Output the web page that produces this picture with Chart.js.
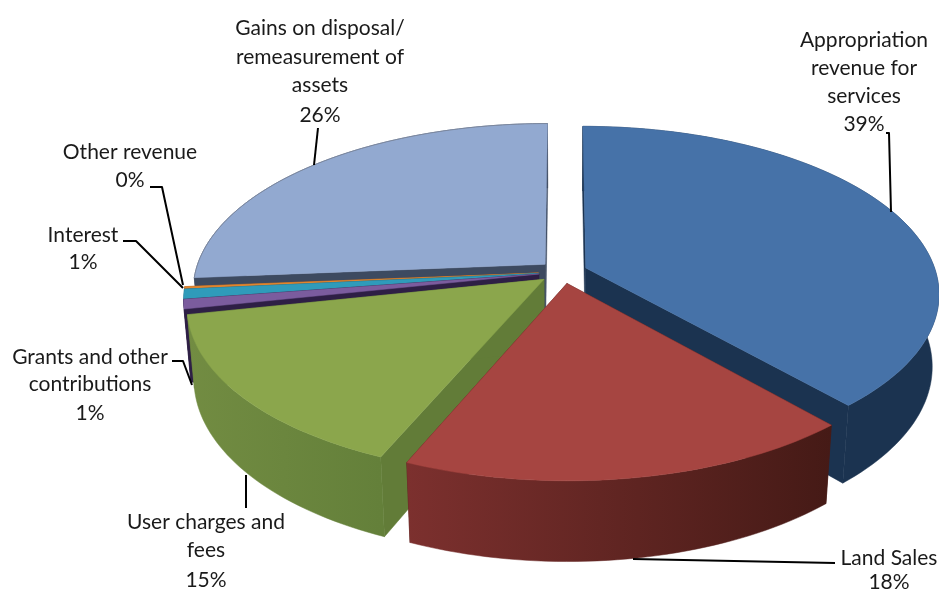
<!DOCTYPE html>
<html><head><meta charset="utf-8">
<style>html,body{margin:0;padding:0;background:#fff}canvas{display:block}</style>
<script src="https://cdn.jsdelivr.net/npm/chart.js@4"></script>
</head><body><canvas id="c" width="939" height="592"></canvas>
<script>
// Data
const categories = ["Appropriation revenue for services","Land Sales","User charges and fees","Grants and other contributions","Interest","Other revenue","Gains on disposal/ remeasurement of assets"];
const values = [38.5,17.9,15.3,0.9,0.9,0.2,26.3];
const topColors = ["#4672A8","#A64541","#8BA64C","#7B5C9E","#2F9BBA","#E0852F","#92A9D0"];
const cutColors = ["#1B3350","#4A1A16","#627C38","#2E1F45","#1D5C6E","#8A5020","#3D4A60"];
const wallStops = [["#1B3350","#1B3350"],["#7C302E","#451A16"],["#728C42","#64803A"],["#2E1F45","#2E1F45"],["#1D5C6E","#1D5C6E"],["#8A5020","#8A5020"],["#3D4A60","#3D4A60"]];
// Label layout: wrapped lines and leader-lines
const labelLines = [["Appropriation","revenue for","services"],["Land Sales"],["User charges and","fees"],["Grants and other","contributions"],["Interest"],["Other revenue"],["Gains on disposal/","remeasurement of","assets"]];
const labelCenterX = [864,889,206,90,83,130,320];
const labelLineY = [[40,68,96,124],[558,582],[522,550,580],[357,384,413],[235,262],[152,180],[28,57,85,115]];
const leaders = [
 [[886,133],[889,133],[891,212]],
 [[633,559],[835,563]],
 [[246,475],[246,508]],
 [[172,361],[183,361],[192,385]],
 [[123,241],[136,241],[183,288]],
 [[150,187],[162,187],[183,285]],
 [[318,128],[314,165]]
];
// Projection of the pie plane
const view = {cx:563,cy:272,rx:350,ry:164,k:0.15,depth:73,taper:0.018};
const paintOrder = [6,5,4,3,0,2,1];

function proj(u,v,z){
  const w = 1 - view.k*v + view.taper*z;
  return [view.cx + view.rx*u/w, view.cy + (view.ry*v + view.depth*z)/w];
}
function geom(el){
  const p = el.getProps(['startAngle','endAngle','outerRadius']);
  const off = el.options.offset||0, mid=(p.startAngle+p.endAngle)/2, r=p.outerRadius;
  const ox=Math.cos(mid)*off/r, oy=Math.sin(mid)*off/r;
  const n=Math.max(4,Math.ceil((p.endAngle-p.startAngle)*40));
  const ring=z=>{const a=[];for(let i=0;i<=n;i++){const t=p.startAngle+(p.endAngle-p.startAngle)*i/n;a.push(proj(ox+Math.cos(t),oy+Math.sin(t),z));}return a;};
  return {top:ring(0),bot:ring(1),a0:proj(ox,oy,0),a1:proj(ox,oy,1)};
}
function poly(ctx,pts,fill){ctx.beginPath();pts.forEach((q,i)=>i?ctx.lineTo(q[0],q[1]):ctx.moveTo(q[0],q[1]));ctx.closePath();ctx.fillStyle=fill;ctx.fill();ctx.strokeStyle=fill;ctx.lineWidth=0.5;ctx.stroke();}

const pie3d = {
  id:'pie3d',
  beforeDatasetDraw(){return false;},
  afterDatasetsDraw(chart){
    const ctx=chart.ctx, els=chart.getDatasetMeta(0).data;
    ctx.save();
    paintOrder.forEach(i=>{
      const g=geom(els[i]);
      const topN=g.top.length-1;
      // cut faces
      poly(ctx,[g.a0,g.top[0],g.bot[0],g.a1],cutColors[i]);
      poly(ctx,[g.a0,g.top[topN],g.bot[topN],g.a1],cutColors[i]);
      // outer wall
      const xs=g.top.map(q=>q[0]);
      const grad=ctx.createLinearGradient(Math.min(...xs),0,Math.max(...xs)+0.01,0);
      grad.addColorStop(0,wallStops[i][0]);grad.addColorStop(1,wallStops[i][1]);
      poly(ctx,g.top.concat(g.bot.slice().reverse()),grad);
      // top face
      poly(ctx,[g.a0].concat(g.top),topColors[i]);
    });
    // light grey rim on the back slice
    const b=geom(els[6]);
    ctx.beginPath();b.top.forEach((q,j)=>j?ctx.lineTo(q[0],q[1]):ctx.moveTo(q[0],q[1]));
    ctx.strokeStyle='rgba(120,130,150,.8)';ctx.lineWidth=1;ctx.stroke();
    // leader lines
    ctx.strokeStyle='#000';ctx.lineWidth=2;ctx.lineJoin='round';
    leaders.forEach(l=>{ctx.beginPath();l.forEach((q,j)=>j?ctx.lineTo(q[0],q[1]):ctx.moveTo(q[0],q[1]));ctx.stroke();});
    // labels
    ctx.fillStyle='#1a1a1a';ctx.font='21px Lato, "Noto Sans", sans-serif';ctx.textAlign='center';ctx.textBaseline='middle';
    categories.forEach((_,i)=>{
      const lines=labelLines[i].concat(Math.round(values[i])+'%');
      lines.forEach((s,j)=>ctx.fillText(s,labelCenterX[i],labelLineY[i][j]));
    });
    ctx.restore();
  }
};
new Chart(document.getElementById('c'),{
  type:'pie',
  data:{labels:categories,datasets:[{data:values,backgroundColor:topColors,borderWidth:0,offset:20}]},
  options:{responsive:false,animation:false,plugins:{legend:{display:false},tooltip:{enabled:false}}},
  plugins:[pie3d]
});
</script></body></html>
